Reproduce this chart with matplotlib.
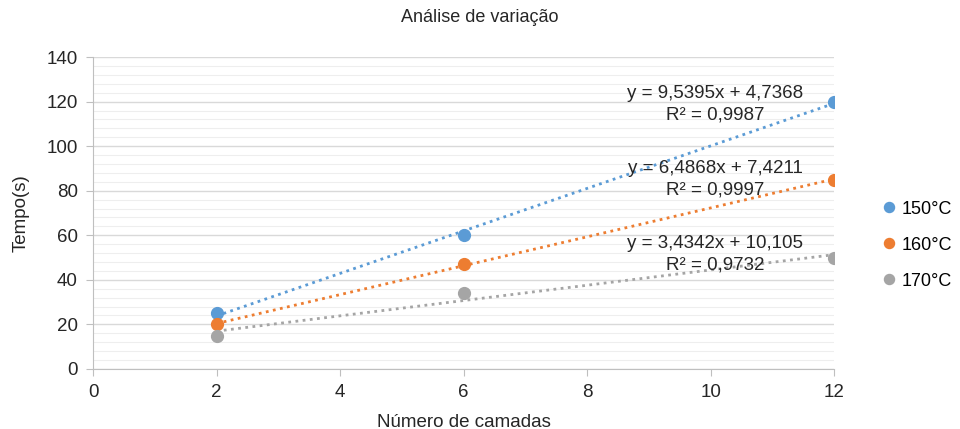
import numpy as np
import matplotlib.pyplot as plt
from matplotlib.ticker import MultipleLocator

plt.rcParams['font.family'] = ['Liberation Sans', 'DejaVu Sans']

# data
camadas = [2, 6, 12]
t150 = [25, 60, 120]
t160 = [20, 47, 85]
t170 = [15, 34, 50]
labels = ['150°C', '160°C', '170°C']
cores = ['#5B9BD5', '#ED7D31', '#A5A5A5']
eq_pos = [(10.07, 118.9), (10.07, 85.3), (10.07, 51.6)]

fig = plt.figure(figsize=(9.6, 4.29), dpi=100)
ax = fig.add_axes([0.097, 0.140, 0.772, 0.727])

x = np.array(camadas)
for y, lab, c, (ex, ey) in zip([t150, t160, t170], labels, cores, eq_pos):
    y = np.array(y)
    a, b = np.polyfit(x, y, 1)
    yfit = a * x + b
    r2 = 1 - np.sum((y - yfit) ** 2) / np.sum((y - y.mean()) ** 2)
    xs = np.array([x.min(), x.max()])
    ax.plot(xs, a * xs + b, ls=(0, (1, 1.6)), lw=2.0, color=c, zorder=3)
    ax.plot(x, y, 'o', ms=8.5, color=c, label=lab, zorder=4)
    bs = ('%.4f' % b) if b < 10 else ('%.3f' % b)
    txt = 'y = %sx + %s\nR² = %s' % (('%.4f' % a).replace('.', ','),
                                     bs.replace('.', ','),
                                     ('%.4f' % r2).replace('.', ','))
    ax.text(ex, ey, txt, ha='center', va='center', fontsize=13.5,
            color='#262626', linespacing=1.35, zorder=5)

ax.set_xlim(0, 12)
ax.set_ylim(0, 140)
ax.xaxis.set_major_locator(MultipleLocator(2))
ax.yaxis.set_major_locator(MultipleLocator(20))
ax.yaxis.set_minor_locator(MultipleLocator(4))
ax.grid(which='major', axis='y', color='#d9d9d9', lw=1.0)
ax.grid(which='minor', axis='y', color='#eeeeee', lw=0.8)
ax.set_axisbelow(True)
for s in ['top', 'right']:
    ax.spines[s].set_visible(False)
for s in ['left', 'bottom']:
    ax.spines[s].set_color('#bfbfbf')
ax.tick_params(axis='both', which='major', colors='#bfbfbf', labelcolor='#262626',
               labelsize=13.5, length=5)
ax.tick_params(axis='y', which='minor', length=0)
ax.tick_params(axis='x', pad=6)
ax.tick_params(axis='y', pad=6)

fig.text(0.5, 1 - 18 / 429, 'Análise de variação', ha='center', va='center',
         fontsize=13, color='#262626')
ax.set_xlabel('Número de camadas', fontsize=13.5, color='#262626', labelpad=9)
ax.set_ylabel('Tempo(s)', fontsize=13.5, color='#262626', labelpad=12)

ax.legend(loc='center left', bbox_to_anchor=(1.055, 0.397), frameon=False,
          fontsize=13, handlelength=0.8, handletextpad=0.3, borderpad=0.4,
          borderaxespad=0, markerscale=0.85, labelspacing=1.05)

fig.savefig('out.png', dpi=100)
